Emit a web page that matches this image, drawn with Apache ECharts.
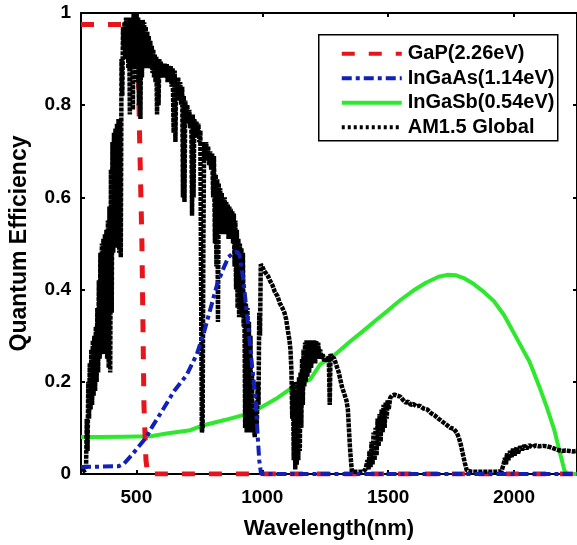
<!DOCTYPE html>
<html>
<head>
<meta charset="utf-8">
<script src="https://cdn.jsdelivr.net/npm/echarts@6/dist/echarts.min.js"></script>
<style>
  html, body { margin: 0; padding: 0; background: #fff; }
  #chart { width: 577px; height: 545px; }
</style>
</head>
<body>
<div id="chart"></div>
<script>
// Quantum efficiency of three subcells vs. the normalised AM1.5 global spectrum
const xTicks = [500, 1000, 1500, 2000];
const yTicks = [0, 0.2, 0.4, 0.6, 0.8, 1];

const seriesNames = ['GaP(2.26eV)', 'InGaAs(1.14eV)', 'InGaSb(0.54eV)', 'AM1.5 Global'];

// [wavelength nm, QE]
const gapPoints = [
  [280, 0.975], [503, 0.975], [507, 0.9], [512, 0.75], [522, 0.5], [530, 0.15],
  [538, 0.03], [545, 0], [2250, 0]
];

const ingaasPoints = [
  [280, 0.015], [430, 0.017], [450, 0.022], [480, 0.04], [510, 0.06], [540, 0.08],
  [560, 0.1], [600, 0.135], [650, 0.18], [700, 0.215], [740, 0.26], [770, 0.31],
  [800, 0.37], [820, 0.41], [845, 0.445], [865, 0.47], [885, 0.48], [900, 0.482],
  [910, 0.475], [925, 0.42], [946, 0.31], [962, 0.22], [974, 0.16], [982, 0.08],
  [988, 0.03], [995, 0], [2250, 0]
];

const ingasbPoints = [
  [280, 0.08], [350, 0.08], [450, 0.081], [557, 0.082], [620, 0.088], [714, 0.095],
  [756, 0.104], [850, 0.117], [938, 0.13], [980, 0.14], [1060, 0.165], [1110, 0.184],
  [1190, 0.205], [1230, 0.238], [1280, 0.255], [1350, 0.288], [1400, 0.31], [1455, 0.335],
  [1500, 0.355], [1550, 0.378], [1600, 0.398], [1650, 0.415], [1700, 0.428], [1735, 0.432],
  [1770, 0.431], [1800, 0.425], [1840, 0.412], [1880, 0.395], [1920, 0.375], [1960, 0.345],
  [2000, 0.305], [2040, 0.265], [2060, 0.245], [2075, 0.225], [2100, 0.19], [2130, 0.145],
  [2160, 0.095], [2185, 0.04], [2200, 0.008], [2210, 0], [2250, 0]
];

const am15Points = [
  [285, 0.005], [300, 0.01], [303, 0.12], [306, 0.05], [309, 0.2], [312, 0.12], [315, 0.24],
  [318, 0.14], [321, 0.27], [324, 0.15], [327, 0.29], [330, 0.17], [333, 0.3], [336, 0.18],
  [339, 0.32], [342, 0.2], [345, 0.36], [348, 0.22], [351, 0.42], [354, 0.25], [357, 0.48],
  [360, 0.26], [363, 0.5], [366, 0.27], [369, 0.51], [372, 0.26], [375, 0.52], [378, 0.28],
  [381, 0.53], [384, 0.25], [387, 0.55], [390, 0.23], [393, 0.58], [396, 0.22], [399, 0.66],
  [402, 0.35], [405, 0.72], [408, 0.48], [411, 0.74], [414, 0.5], [417, 0.75], [420, 0.49],
  [423, 0.76], [426, 0.5], [429, 0.77], [432, 0.48], [435, 0.77], [438, 0.47], [441, 0.9],
  [444, 0.82], [447, 0.97], [450, 0.92], [453, 0.98], [456, 0.9], [459, 0.99], [462, 0.93],
  [465, 0.98], [468, 0.88], [471, 0.99], [474, 0.78], [477, 0.98], [480, 0.9], [483, 0.99],
  [486, 0.79], [489, 1.0], [492, 0.88], [495, 0.99], [498, 0.85], [501, 1.0], [504, 0.9],
  [507, 0.99], [510, 0.8], [513, 0.98], [516, 0.77], [519, 0.98], [522, 0.86], [525, 0.985],
  [528, 0.9], [531, 0.98], [534, 0.88], [537, 0.97], [540, 0.89], [543, 0.96], [546, 0.88],
  [549, 0.95], [552, 0.89], [555, 0.94], [558, 0.88], [561, 0.93], [564, 0.87], [567, 0.92],
  [570, 0.86], [573, 0.91], [576, 0.85], [579, 0.905], [582, 0.78], [585, 0.9], [588, 0.8],
  [591, 0.9], [594, 0.86], [597, 0.895], [600, 0.86], [604, 0.89], [608, 0.86], [612, 0.89],
  [616, 0.86], [620, 0.89], [624, 0.85], [628, 0.885], [632, 0.85], [636, 0.885], [640, 0.84],
  [644, 0.88], [648, 0.74], [652, 0.875], [655, 0.72], [658, 0.86], [662, 0.82], [666, 0.86],
  [670, 0.81], [674, 0.85], [678, 0.8], [682, 0.84], [685, 0.6], [688, 0.82], [691, 0.59],
  [694, 0.81], [698, 0.77], [702, 0.8], [706, 0.76], [710, 0.79], [714, 0.75], [718, 0.78],
  [721, 0.56], [724, 0.78], [727, 0.6], [730, 0.77], [734, 0.73], [738, 0.765], [742, 0.73],
  [746, 0.76], [750, 0.72], [754, 0.745], [758, 0.3], [760, 0.09], [763, 0.1], [766, 0.5],
  [769, 0.72], [773, 0.68], [777, 0.72], [781, 0.68], [785, 0.71], [789, 0.67], [793, 0.7],
  [797, 0.66], [801, 0.695], [805, 0.6], [808, 0.69], [812, 0.5], [815, 0.65], [818, 0.45],
  [821, 0.64], [824, 0.33], [827, 0.63], [830, 0.52], [833, 0.62], [836, 0.52], [839, 0.61],
  [842, 0.52], [845, 0.6], [848, 0.52], [851, 0.6], [854, 0.52], [857, 0.59], [860, 0.52],
  [863, 0.585], [866, 0.51], [869, 0.58], [872, 0.52], [875, 0.575], [878, 0.51], [881, 0.57],
  [884, 0.5], [887, 0.565], [890, 0.45], [893, 0.55], [896, 0.4], [899, 0.53], [902, 0.36],
  [905, 0.51], [908, 0.34], [911, 0.5], [914, 0.35], [917, 0.49], [920, 0.34], [923, 0.48],
  [926, 0.32], [929, 0.38], [932, 0.1], [935, 0.37], [938, 0.09], [941, 0.36], [944, 0.1],
  [947, 0.33], [950, 0.09], [953, 0.3], [956, 0.1], [959, 0.22], [962, 0.09], [966, 0.12],
  [970, 0.08], [974, 0.14], [978, 0.1], [982, 0.2], [985, 0.15], [988, 0.35], [991, 0.3],
  [994, 0.455], [1000, 0.45], [1008, 0.44], [1015, 0.435], [1022, 0.43], [1030, 0.42],
  [1040, 0.41], [1050, 0.395], [1061, 0.385], [1070, 0.37], [1080, 0.36], [1088, 0.35],
  [1095, 0.335], [1102, 0.31], [1108, 0.29], [1112, 0.27], [1116, 0.22], [1119, 0.12],
  [1122, 0.2], [1125, 0.03], [1128, 0.18], [1131, 0.01], [1134, 0.17], [1137, 0.02],
  [1140, 0.2], [1143, 0.03], [1146, 0.21], [1149, 0.05], [1152, 0.22], [1155, 0.1],
  [1158, 0.25], [1161, 0.15], [1164, 0.27], [1167, 0.19], [1170, 0.285], [1173, 0.2],
  [1176, 0.29], [1179, 0.21], [1182, 0.29], [1186, 0.22], [1190, 0.29], [1194, 0.23],
  [1198, 0.29], [1202, 0.24], [1206, 0.29], [1210, 0.24], [1214, 0.288], [1218, 0.25],
  [1222, 0.285], [1226, 0.25], [1230, 0.27], [1235, 0.25], [1240, 0.26], [1246, 0.245],
  [1252, 0.25], [1258, 0.245], [1264, 0.255], [1268, 0.15], [1271, 0.26], [1275, 0.255],
  [1280, 0.255], [1286, 0.25], [1292, 0.24], [1298, 0.23], [1304, 0.22], [1310, 0.205],
  [1316, 0.19], [1322, 0.18], [1328, 0.17], [1334, 0.16], [1340, 0.14], [1344, 0.1],
  [1348, 0.06], [1352, 0.03], [1356, 0.005], [1400, 0.005], [1410, 0.01], [1414, 0.01],
  [1418, 0.03], [1422, 0.01], [1426, 0.05], [1430, 0.015], [1434, 0.07], [1438, 0.02],
  [1442, 0.09], [1446, 0.03], [1450, 0.1], [1454, 0.04], [1458, 0.12], [1462, 0.06],
  [1466, 0.13], [1470, 0.07], [1474, 0.14], [1478, 0.09], [1482, 0.15], [1486, 0.1],
  [1490, 0.155], [1494, 0.12], [1498, 0.16], [1502, 0.14], [1508, 0.165], [1515, 0.17],
  [1525, 0.172], [1535, 0.17], [1548, 0.168], [1560, 0.16], [1570, 0.155], [1580, 0.157],
  [1590, 0.15], [1600, 0.152], [1612, 0.147], [1625, 0.148], [1640, 0.142], [1655, 0.14],
  [1670, 0.132], [1685, 0.127], [1700, 0.12], [1712, 0.115], [1724, 0.11], [1736, 0.105],
  [1748, 0.1], [1760, 0.098], [1772, 0.09], [1780, 0.08], [1788, 0.065], [1796, 0.045],
  [1804, 0.025], [1812, 0.008], [1830, 0.005], [1850, 0.005], [1870, 0.005], [1890, 0.005],
  [1910, 0.005], [1930, 0.005], [1950, 0.006], [1958, 0.02], [1964, 0.035], [1968, 0.02],
  [1972, 0.045], [1978, 0.03], [1984, 0.05], [1990, 0.035], [1996, 0.055], [2002, 0.04],
  [2010, 0.058], [2016, 0.045], [2024, 0.06], [2032, 0.052], [2040, 0.062], [2050, 0.055],
  [2060, 0.063], [2072, 0.058], [2085, 0.062], [2100, 0.06], [2115, 0.061], [2130, 0.06],
  [2145, 0.058], [2160, 0.055], [2175, 0.052], [2190, 0.05], [2205, 0.051], [2220, 0.05],
  [2235, 0.049], [2250, 0.05]
];

const FONT = '"Liberation Sans", Arial, sans-serif';

// line styles for the plotted series; the legend keys use `key` dashes
const styles = {
  gap:    { color: '#e8141c', width: 5, dash: [13, 14], key: [13, 14] },
  ingaas: { color: '#1020b8', width: 4, dash: [10, 4, 4, 4], key: [10, 4, 4, 4] },
  ingasb: { color: '#2ee82e', width: 4, dash: null, key: null },
  am15:   { color: '#000000', width: 4.5, dash: [4, 1], key: [3, 3] }
};
const legendOrder = [styles.gap, styles.ingaas, styles.ingasb, styles.am15];

const chart = echarts.init(document.getElementById('chart'), null, { renderer: 'canvas' });

const baseX = {
  type: 'value', min: 280, max: 2250,
  axisLine: { show: true, onZero: false, lineStyle: { color: '#000', width: 2 } },
  splitLine: { show: false },
  axisTick: { show: true, inside: true, length: 4, customValues: xTicks, lineStyle: { color: '#000', width: 2 } }
};
const baseY = {
  type: 'value', min: 0, max: 1, interval: 0.2,
  axisLine: { show: true, onZero: false, lineStyle: { color: '#000', width: 2 } },
  splitLine: { show: false },
  axisTick: { show: true, inside: true, length: 4, lineStyle: { color: '#000', width: 2 } }
};

// legend box: frame, key lines and labels
const LG = { left: 318, top: 34, width: 239, height: 106, rowTop: 19, rowGap: 24.5, keyX: 23, keyLen: 60, textX: 89 };
const legendChildren = [{
  type: 'rect',
  shape: { x: 0, y: 0, width: LG.width, height: LG.height },
  style: { fill: '#fff', stroke: '#000', lineWidth: 1.5 }
}];
seriesNames.forEach((name, i) => {
  const s = legendOrder[i];
  const y = LG.rowTop + i * LG.rowGap;
  legendChildren.push({
    type: 'line',
    shape: { x1: LG.keyX, y1: y, x2: LG.keyX + LG.keyLen, y2: y },
    style: { stroke: s.color, lineWidth: Math.min(s.width, 4), lineDash: s.key }
  });
  legendChildren.push({
    type: 'text',
    style: { text: name, x: LG.textX, y: y, verticalAlign: 'middle', align: 'left',
      font: 'bold 20px ' + FONT, fill: '#000' }
  });
});

function lineSeries(name, data, s, z) {
  return {
    name, type: 'line', data, z,
    symbol: 'none', showSymbol: false,
    lineStyle: { color: s.color, width: s.width, type: s.dash || 'solid', join: 'bevel' },
    itemStyle: { color: s.color }
  };
}

chart.setOption({
  animation: false,
  backgroundColor: '#fff',
  grid: { left: 80, top: 13, right: -2, bottom: 70, containLabel: false },
  xAxis: [
    Object.assign({}, baseX, {
      position: 'bottom',
      name: 'Wavelength(nm)', nameLocation: 'middle', nameGap: 44,
      nameTextStyle: { fontFamily: FONT, fontWeight: 'bold', fontSize: 22, color: '#000' },
      axisLabel: { show: true, customValues: xTicks, margin: 14, formatter: v => String(v),
        fontFamily: FONT, fontWeight: 'bold', fontSize: 19, color: '#000' }
    }),
    Object.assign({}, baseX, { position: 'top', axisLabel: { show: false } })
  ],
  yAxis: [
    Object.assign({}, baseY, {
      position: 'left',
      name: 'Quantum Efficiency', nameLocation: 'middle', nameGap: 50,
      nameTextStyle: { fontFamily: FONT, fontWeight: 'bold', fontSize: 23, color: '#000' },
      axisLabel: { show: true, margin: 10, formatter: v => String(+v.toFixed(1)),
        fontFamily: FONT, fontWeight: 'bold', fontSize: 19, color: '#000' }
    }),
    Object.assign({}, baseY, { position: 'right', axisLabel: { show: false } })
  ],
  graphic: [{
    type: 'group', left: LG.left, top: LG.top, z: 100,
    children: legendChildren
  }],
  series: [
    lineSeries(seriesNames[2], ingasbPoints, styles.ingasb, 2),
    lineSeries(seriesNames[0], gapPoints, styles.gap, 3),
    lineSeries(seriesNames[3], am15Points, styles.am15, 4),
    lineSeries(seriesNames[1], ingaasPoints, styles.ingaas, 5)
  ]
});
</script>
</body>
</html>
